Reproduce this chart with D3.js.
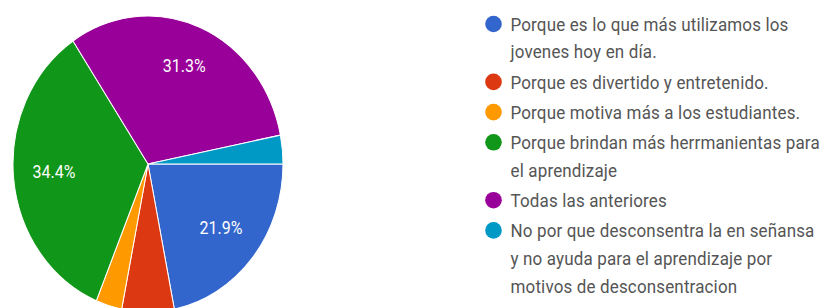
<!DOCTYPE html>
<html>
<head>
<meta charset="utf-8">
<script src="https://cdn.jsdelivr.net/npm/d3@7"></script>
<style>
  html, body { margin: 0; padding: 0; background: #fff; }
  svg { display: block; }
</style>
</head>
<body>
<svg id="chart" width="837" height="308"></svg>
<script>
// ---- data ----
const categories = [
  "Porque es lo que más utilizamos los\njovenes hoy en día.",
  "Porque es divertido y entretenido.",
  "Porque motiva más a los estudiantes.",
  "Porque brindan más herrmanientas para\nel aprendizaje",
  "Todas las anteriores",
  "No por que desconsentra la en señansa\ny no ayuda para el aprendizaje por\nmotivos de desconsentracion"
];
const counts = [7, 2, 1, 11, 10, 1];
const colors = ["#3366cc", "#dc3912", "#ff9900", "#109618", "#990099", "#0099c6"];

// ---- layout ----
const W = 837, H = 308;
const cx = 148, cy = 164, R = 135, sy = 1.096;
const svg = d3.select("#chart");

const total = d3.sum(counts);
const data = categories.map((c, i) => ({ cat: c, value: counts[i], color: colors[i] }));

const pie = d3.pie().value(d => d.value).sort(null)
  .startAngle(Math.PI / 2).endAngle(Math.PI / 2 + 2 * Math.PI);
const arcs = pie(data);
const arc = d3.arc().innerRadius(0).outerRadius(R);
const labelArc = d3.arc().innerRadius(R * 0.7).outerRadius(R * 0.7);

const g = svg.append("g").attr("transform", `translate(${cx},${cy}) scale(1,${sy})`);
g.selectAll("path.slice").data(arcs).enter().append("path")
  .attr("class", "slice")
  .attr("d", arc)
  .attr("fill", d => d.data.color)
  .attr("stroke", "#ffffff")
  .attr("stroke-width", 1);

const fmt = v => (Math.round(v / total * 1000) / 10).toFixed(1) + "%";
g.selectAll("text.pct").data(arcs.filter(d => d.data.value / total > 0.1)).enter().append("text")
  .attr("class", "pct")
  .attr("transform", d => { const c = labelArc.centroid(d); return `translate(${c[0]},${c[1] - 2})`; })
  .attr("text-anchor", "middle")
  .attr("dominant-baseline", "central")
  .attr("font-family", "Roboto, Arial, sans-serif")
  .attr("font-size", 16)
  .attr("fill", "#ffffff")
  .text(d => fmt(d.data.value));

// ---- legend ----
const legX = 493.5, legY0 = 24, lineH = 27.7, itemPad = 2.5;
const leg = svg.append("g");
let y = legY0;
data.forEach(d => {
  const lines = d.cat.split("\n");
  const item = leg.append("g").attr("transform", `translate(${legX},${y})`);
  item.append("ellipse").attr("cx", 0).attr("cy", 0).attr("rx", 8.3).attr("ry", 8.3).attr("fill", d.color);
  lines.forEach((ln, k) => {
    item.append("text")
      .attr("transform", `translate(17,${k * lineH}) scale(1,${sy})`)
      .attr("dominant-baseline", "central")
      .attr("font-family", "Roboto, Arial, sans-serif")
      .attr("font-size", 17)
      .attr("letter-spacing", 0.15)
      .attr("fill", "#555555")
      .text(ln);
  });
  y += lines.length * lineH + itemPad;
});
</script>
</body>
</html>
